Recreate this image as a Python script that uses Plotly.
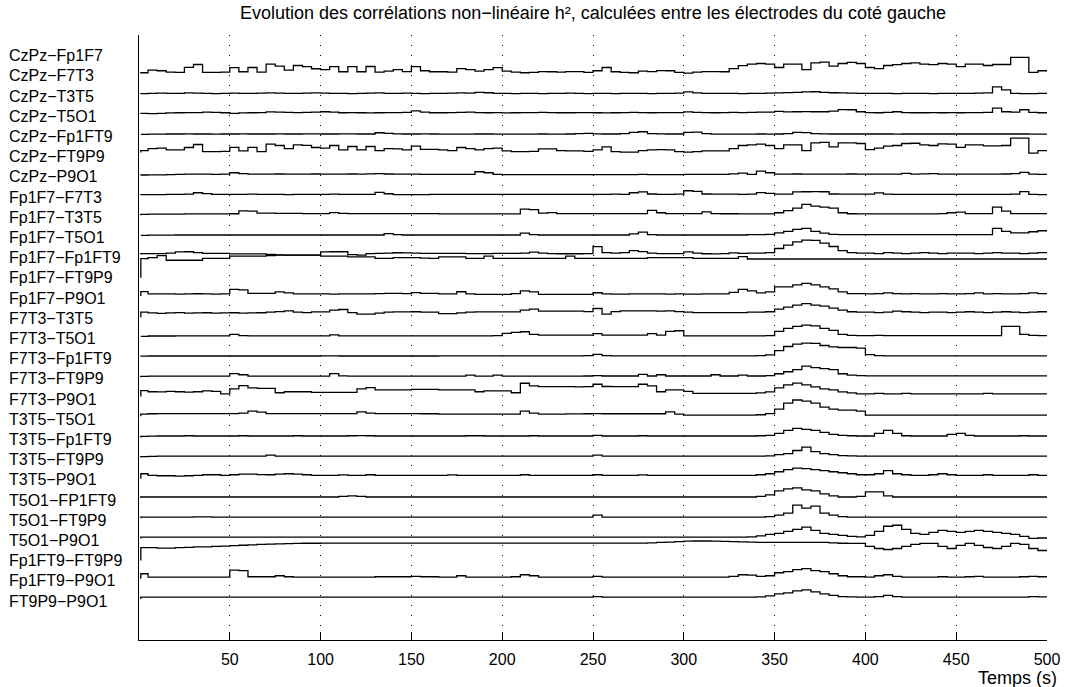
import plotly.graph_objects as go

# Time grid (s): first sample, then one value per 5 s window
TIME_S = [1] + list(range(5, 501, 5))

PAIR_LABELS = [
    "CzPz−Fp1F7", "CzPz−F7T3", "CzPz−T3T5", "CzPz−T5O1", "CzPz−Fp1FT9",
    "CzPz−FT9P9", "CzPz−P9O1", "Fp1F7−F7T3", "Fp1F7−T3T5", "Fp1F7−T5O1",
    "Fp1F7−Fp1FT9", "Fp1F7−FT9P9", "Fp1F7−P9O1", "F7T3−T3T5", "F7T3−T5O1",
    "F7T3−Fp1FT9", "F7T3−FT9P9", "F7T3−P9O1", "T3T5−T5O1", "T3T5−Fp1FT9",
    "T3T5−FT9P9", "T3T5−P9O1", "T5O1−FP1FT9", "T5O1−FT9P9", "T5O1−P9O1",
    "Fp1FT9−FT9P9", "Fp1FT9−P9O1", "FT9P9−P9O1",
]

X_TICKS = [50, 100, 150, 200, 250, 300, 350, 400, 450, 500]

# h2 values, one list per electrode pair (first value = initial sample)
CZPZ_F7T3 = [0.12,
    0.15, 0.28, 0.25, 0.18, 0.17, 0.42, 0.56, 0.17, 0.17, 0.18,
    0.40, 0.20, 0.41, 0.18, 0.58, 0.48, 0.28, 0.51, 0.45, 0.35,
    0.31, 0.45, 0.20, 0.45, 0.20, 0.46, 0.18, 0.23, 0.31, 0.21,
    0.45, 0.25, 0.20, 0.20, 0.18, 0.36, 0.31, 0.23, 0.31, 0.40,
    0.23, 0.18, 0.15, 0.17, 0.21, 0.20, 0.18, 0.21, 0.21, 0.17,
    0.25, 0.41, 0.20, 0.17, 0.15, 0.23, 0.21, 0.26, 0.25, 0.17,
    0.13, 0.18, 0.21, 0.21, 0.20, 0.36, 0.50, 0.58, 0.61, 0.58,
    0.41, 0.58, 0.58, 0.31, 0.64, 0.68, 0.48, 0.61, 0.66, 0.61,
    0.41, 0.36, 0.51, 0.55, 0.61, 0.64, 0.58, 0.55, 0.61, 0.58,
    0.45, 0.58, 0.58, 0.51, 0.56, 0.56, 0.91, 0.91, 0.17, 0.25]

CZPZ_T3T5 = [0.10,
    0.12, 0.13, 0.14, 0.13, 0.13, 0.15, 0.14, 0.13, 0.12, 0.13,
    0.14, 0.13, 0.13, 0.14, 0.15, 0.14, 0.13, 0.13, 0.14, 0.15,
    0.14, 0.13, 0.13, 0.12, 0.13, 0.14, 0.15, 0.13, 0.13, 0.14,
    0.13, 0.12, 0.13, 0.13, 0.14, 0.15, 0.14, 0.18, 0.16, 0.13,
    0.13, 0.12, 0.13, 0.13, 0.12, 0.13, 0.13, 0.14, 0.13, 0.12,
    0.13, 0.13, 0.12, 0.13, 0.13, 0.13, 0.12, 0.13, 0.13, 0.14,
    0.20, 0.15, 0.13, 0.13, 0.13, 0.13, 0.12, 0.13, 0.13, 0.14,
    0.15, 0.17, 0.18, 0.20, 0.21, 0.18, 0.16, 0.15, 0.14, 0.13,
    0.13, 0.13, 0.13, 0.12, 0.13, 0.13, 0.13, 0.12, 0.13, 0.13,
    0.13, 0.13, 0.14, 0.15, 0.45, 0.30, 0.13, 0.12, 0.12, 0.13]

CZPZ_T5O1 = [0.12,
    0.14, 0.13, 0.14, 0.16, 0.17, 0.18, 0.18, 0.20, 0.19, 0.17,
    0.14, 0.16, 0.17, 0.18, 0.21, 0.20, 0.19, 0.18, 0.19, 0.20,
    0.22, 0.20, 0.17, 0.18, 0.17, 0.16, 0.17, 0.18, 0.18, 0.19,
    0.26, 0.20, 0.17, 0.17, 0.18, 0.19, 0.20, 0.18, 0.17, 0.18,
    0.16, 0.17, 0.18, 0.18, 0.19, 0.18, 0.17, 0.17, 0.18, 0.18,
    0.17, 0.16, 0.17, 0.18, 0.19, 0.18, 0.17, 0.18, 0.18, 0.18,
    0.21, 0.19, 0.18, 0.17, 0.18, 0.19, 0.18, 0.19, 0.20, 0.20,
    0.24, 0.21, 0.22, 0.23, 0.22, 0.22, 0.25, 0.33, 0.32, 0.22,
    0.18, 0.17, 0.19, 0.22, 0.18, 0.17, 0.17, 0.18, 0.17, 0.18,
    0.17, 0.18, 0.18, 0.19, 0.40, 0.22, 0.20, 0.32, 0.19, 0.17]

CZPZ_FP1FT9 = [0.10,
    0.10, 0.11, 0.11, 0.12, 0.12, 0.13, 0.12, 0.12, 0.11, 0.12,
    0.12, 0.13, 0.12, 0.12, 0.12, 0.13, 0.12, 0.12, 0.13, 0.13,
    0.12, 0.12, 0.13, 0.13, 0.12, 0.12, 0.18, 0.15, 0.13, 0.12,
    0.12, 0.13, 0.12, 0.11, 0.11, 0.11, 0.11, 0.12, 0.12, 0.11,
    0.11, 0.11, 0.11, 0.11, 0.12, 0.11, 0.11, 0.12, 0.14, 0.15,
    0.13, 0.12, 0.12, 0.14, 0.20, 0.23, 0.14, 0.13, 0.12, 0.12,
    0.20, 0.21, 0.14, 0.11, 0.11, 0.11, 0.11, 0.11, 0.12, 0.11,
    0.12, 0.14, 0.20, 0.19, 0.14, 0.13, 0.12, 0.12, 0.12, 0.12,
    0.12, 0.12, 0.12, 0.11, 0.12, 0.12, 0.12, 0.12, 0.12, 0.12,
    0.12, 0.12, 0.12, 0.12, 0.12, 0.12, 0.12, 0.12, 0.11, 0.11]

CZPZ_FT9P9 = [0.20,
    0.30, 0.40, 0.42, 0.33, 0.33, 0.45, 0.60, 0.25, 0.25, 0.26,
    0.46, 0.28, 0.46, 0.25, 0.62, 0.55, 0.40, 0.58, 0.56, 0.45,
    0.42, 0.55, 0.33, 0.50, 0.33, 0.50, 0.30, 0.40, 0.38, 0.33,
    0.52, 0.36, 0.36, 0.33, 0.30, 0.45, 0.40, 0.33, 0.40, 0.42,
    0.28, 0.25, 0.25, 0.26, 0.38, 0.38, 0.30, 0.28, 0.28, 0.26,
    0.33, 0.48, 0.25, 0.22, 0.22, 0.30, 0.33, 0.35, 0.33, 0.25,
    0.22, 0.25, 0.28, 0.28, 0.28, 0.40, 0.55, 0.58, 0.62, 0.55,
    0.40, 0.58, 0.58, 0.30, 0.68, 0.70, 0.48, 0.68, 0.68, 0.65,
    0.35, 0.42, 0.52, 0.55, 0.65, 0.66, 0.58, 0.55, 0.63, 0.62,
    0.46, 0.58, 0.58, 0.53, 0.53, 0.55, 0.91, 0.91, 0.17, 0.30]

CZPZ_P9O1 = [0.08,
    0.09, 0.10, 0.10, 0.11, 0.12, 0.13, 0.13, 0.13, 0.12, 0.13,
    0.20, 0.16, 0.13, 0.13, 0.13, 0.14, 0.13, 0.13, 0.13, 0.14,
    0.13, 0.13, 0.13, 0.14, 0.13, 0.15, 0.16, 0.14, 0.13, 0.13,
    0.13, 0.12, 0.12, 0.12, 0.12, 0.12, 0.12, 0.25, 0.20, 0.12,
    0.11, 0.11, 0.11, 0.11, 0.11, 0.11, 0.11, 0.11, 0.11, 0.11,
    0.11, 0.11, 0.11, 0.11, 0.11, 0.12, 0.11, 0.11, 0.11, 0.11,
    0.12, 0.12, 0.12, 0.12, 0.12, 0.15, 0.18, 0.12, 0.28, 0.20,
    0.13, 0.13, 0.14, 0.13, 0.13, 0.13, 0.13, 0.13, 0.14, 0.13,
    0.13, 0.13, 0.13, 0.13, 0.17, 0.13, 0.15, 0.16, 0.13, 0.13,
    0.13, 0.13, 0.13, 0.13, 0.13, 0.14, 0.16, 0.22, 0.13, 0.12]

FP1F7_F7T3 = [0.10,
    0.12, 0.12, 0.12, 0.13, 0.13, 0.14, 0.21, 0.17, 0.13, 0.13,
    0.13, 0.13, 0.14, 0.13, 0.13, 0.13, 0.12, 0.13, 0.13, 0.13,
    0.13, 0.14, 0.13, 0.13, 0.13, 0.13, 0.23, 0.16, 0.12, 0.12,
    0.12, 0.12, 0.13, 0.13, 0.13, 0.13, 0.13, 0.13, 0.13, 0.13,
    0.13, 0.13, 0.13, 0.13, 0.13, 0.13, 0.13, 0.13, 0.13, 0.13,
    0.13, 0.13, 0.14, 0.13, 0.21, 0.25, 0.15, 0.13, 0.13, 0.14,
    0.31, 0.28, 0.15, 0.14, 0.14, 0.14, 0.13, 0.14, 0.22, 0.18,
    0.14, 0.14, 0.25, 0.26, 0.27, 0.26, 0.15, 0.14, 0.14, 0.14,
    0.14, 0.20, 0.14, 0.13, 0.13, 0.13, 0.13, 0.13, 0.13, 0.13,
    0.13, 0.13, 0.13, 0.13, 0.13, 0.13, 0.14, 0.27, 0.13, 0.12]

FP1F7_T3T5 = [0.10,
    0.14, 0.15, 0.15, 0.15, 0.15, 0.16, 0.16, 0.16, 0.16, 0.16,
    0.17, 0.31, 0.30, 0.20, 0.20, 0.19, 0.19, 0.19, 0.18, 0.18,
    0.18, 0.23, 0.19, 0.18, 0.18, 0.18, 0.18, 0.18, 0.18, 0.18,
    0.18, 0.18, 0.18, 0.16, 0.16, 0.16, 0.16, 0.16, 0.16, 0.16,
    0.16, 0.16, 0.40, 0.38, 0.20, 0.23, 0.18, 0.18, 0.18, 0.18,
    0.18, 0.18, 0.18, 0.18, 0.18, 0.18, 0.34, 0.22, 0.18, 0.18,
    0.18, 0.18, 0.26, 0.18, 0.17, 0.17, 0.16, 0.16, 0.16, 0.16,
    0.22, 0.33, 0.45, 0.64, 0.55, 0.50, 0.45, 0.22, 0.17, 0.16,
    0.16, 0.16, 0.16, 0.16, 0.16, 0.16, 0.16, 0.16, 0.18, 0.22,
    0.25, 0.18, 0.18, 0.18, 0.50, 0.30, 0.18, 0.18, 0.18, 0.18]

FP1F7_T5O1 = [0.10,
    0.10, 0.11, 0.11, 0.11, 0.12, 0.12, 0.12, 0.12, 0.12, 0.12,
    0.12, 0.12, 0.12, 0.12, 0.12, 0.12, 0.12, 0.12, 0.12, 0.12,
    0.12, 0.12, 0.12, 0.12, 0.12, 0.12, 0.12, 0.19, 0.14, 0.12,
    0.12, 0.12, 0.12, 0.12, 0.12, 0.12, 0.12, 0.12, 0.12, 0.12,
    0.12, 0.12, 0.21, 0.14, 0.12, 0.12, 0.12, 0.12, 0.12, 0.12,
    0.12, 0.12, 0.12, 0.12, 0.17, 0.26, 0.14, 0.12, 0.12, 0.12,
    0.12, 0.12, 0.12, 0.12, 0.12, 0.12, 0.12, 0.14, 0.14, 0.15,
    0.22, 0.30, 0.40, 0.45, 0.30, 0.21, 0.15, 0.14, 0.14, 0.14,
    0.14, 0.14, 0.14, 0.14, 0.14, 0.14, 0.14, 0.14, 0.14, 0.14,
    0.14, 0.14, 0.14, 0.14, 0.45, 0.30, 0.22, 0.22, 0.28, 0.33]

FP1F7_FP1FT9 = [0.15,
    0.20, 0.20, 0.20, 0.22, 0.28, 0.29, 0.25, 0.21, 0.21, 0.21,
    0.18, 0.18, 0.18, 0.18, 0.16, 0.14, 0.12, 0.12, 0.12, 0.12,
    0.28, 0.29, 0.29, 0.15, 0.12, 0.20, 0.21, 0.22, 0.24, 0.23,
    0.22, 0.21, 0.21, 0.21, 0.21, 0.21, 0.20, 0.20, 0.20, 0.21,
    0.21, 0.21, 0.22, 0.27, 0.22, 0.20, 0.19, 0.19, 0.19, 0.20,
    0.54, 0.25, 0.22, 0.25, 0.35, 0.30, 0.22, 0.20, 0.20, 0.20,
    0.28, 0.22, 0.19, 0.18, 0.20, 0.23, 0.21, 0.22, 0.22, 0.25,
    0.45, 0.62, 0.78, 0.87, 0.85, 0.72, 0.55, 0.35, 0.25, 0.22,
    0.22, 0.20, 0.25, 0.22, 0.20, 0.22, 0.25, 0.22, 0.20, 0.22,
    0.22, 0.22, 0.20, 0.22, 0.25, 0.22, 0.22, 0.20, 0.22, 0.25]

FP1F7_FT9P9 = [0.00,
    0.95, 1.00, 1.10, 0.87, 0.87, 0.87, 0.87, 0.96, 0.96, 0.96,
    1.07, 1.07, 1.07, 1.07, 1.10, 1.12, 1.12, 1.12, 1.12, 1.12,
    1.07, 1.07, 1.07, 1.04, 1.04, 1.04, 0.96, 0.96, 1.00, 1.00,
    1.00, 0.97, 0.96, 1.04, 1.04, 1.04, 0.96, 0.96, 1.07, 0.96,
    0.96, 0.96, 0.96, 0.96, 0.96, 0.96, 0.96, 1.07, 0.96, 0.96,
    0.96, 0.96, 0.96, 0.96, 0.96, 0.96, 1.00, 1.00, 1.00, 1.00,
    1.00, 0.96, 0.96, 0.96, 0.96, 0.96, 1.05, 0.93, 0.93, 0.93,
    0.93, 0.93, 0.93, 0.93, 0.93, 0.93, 0.93, 0.93, 0.93, 0.93,
    0.93, 0.93, 0.93, 0.93, 0.93, 0.93, 0.93, 0.93, 0.93, 0.93,
    0.93, 0.93, 0.93, 0.93, 0.93, 0.93, 0.93, 0.93, 0.93, 0.93]

FP1F7_P9O1 = [0.10,
    0.32, 0.20, 0.20, 0.20, 0.19, 0.20, 0.21, 0.20, 0.19, 0.20,
    0.43, 0.40, 0.23, 0.23, 0.23, 0.30, 0.25, 0.20, 0.20, 0.20,
    0.20, 0.19, 0.20, 0.20, 0.20, 0.20, 0.22, 0.23, 0.23, 0.22,
    0.27, 0.23, 0.23, 0.20, 0.20, 0.31, 0.20, 0.18, 0.18, 0.18,
    0.18, 0.22, 0.35, 0.30, 0.18, 0.18, 0.18, 0.18, 0.18, 0.18,
    0.26, 0.20, 0.19, 0.19, 0.20, 0.20, 0.20, 0.20, 0.19, 0.20,
    0.19, 0.19, 0.20, 0.20, 0.20, 0.28, 0.43, 0.35, 0.25, 0.30,
    0.55, 0.55, 0.65, 0.72, 0.65, 0.55, 0.45, 0.30, 0.22, 0.22,
    0.20, 0.22, 0.25, 0.22, 0.20, 0.22, 0.20, 0.20, 0.22, 0.20,
    0.20, 0.22, 0.25, 0.20, 0.22, 0.20, 0.20, 0.22, 0.25, 0.22]

F7T3_T3T5 = [0.05,
    0.30, 0.26, 0.24, 0.26, 0.28, 0.25, 0.26, 0.27, 0.25, 0.26,
    0.27, 0.25, 0.26, 0.27, 0.30, 0.33, 0.36, 0.30, 0.28, 0.31,
    0.31, 0.40, 0.43, 0.28, 0.20, 0.20, 0.25, 0.30, 0.31, 0.31,
    0.32, 0.30, 0.30, 0.23, 0.23, 0.26, 0.30, 0.31, 0.31, 0.31,
    0.31, 0.31, 0.40, 0.45, 0.35, 0.35, 0.35, 0.35, 0.35, 0.33,
    0.48, 0.20, 0.33, 0.36, 0.36, 0.36, 0.36, 0.35, 0.36, 0.33,
    0.30, 0.28, 0.28, 0.28, 0.28, 0.28, 0.28, 0.30, 0.30, 0.32,
    0.45, 0.55, 0.65, 0.72, 0.65, 0.60, 0.50, 0.40, 0.32, 0.30,
    0.30, 0.28, 0.30, 0.35, 0.32, 0.30, 0.28, 0.30, 0.30, 0.28,
    0.30, 0.32, 0.30, 0.28, 0.30, 0.32, 0.30, 0.28, 0.30, 0.32]

F7T3_T5O1 = [0.10,
    0.10, 0.12, 0.12, 0.12, 0.13, 0.13, 0.13, 0.13, 0.13, 0.13,
    0.20, 0.14, 0.13, 0.13, 0.13, 0.13, 0.13, 0.13, 0.13, 0.13,
    0.13, 0.17, 0.13, 0.13, 0.13, 0.13, 0.13, 0.13, 0.13, 0.13,
    0.13, 0.13, 0.13, 0.13, 0.13, 0.13, 0.13, 0.13, 0.13, 0.14,
    0.25, 0.30, 0.33, 0.20, 0.16, 0.16, 0.16, 0.16, 0.16, 0.16,
    0.24, 0.16, 0.16, 0.16, 0.16, 0.16, 0.24, 0.16, 0.35, 0.38,
    0.13, 0.13, 0.13, 0.13, 0.13, 0.13, 0.13, 0.13, 0.13, 0.14,
    0.35, 0.50, 0.60, 0.66, 0.62, 0.50, 0.40, 0.20, 0.15, 0.14,
    0.14, 0.15, 0.14, 0.14, 0.14, 0.14, 0.14, 0.14, 0.14, 0.14,
    0.14, 0.14, 0.14, 0.14, 0.14, 0.60, 0.60, 0.20, 0.15, 0.14]

F7T3_FP1FT9 = [0.10,
    0.12, 0.13, 0.13, 0.13, 0.13, 0.13, 0.13, 0.13, 0.13, 0.13,
    0.13, 0.13, 0.13, 0.13, 0.13, 0.13, 0.13, 0.13, 0.13, 0.13,
    0.14, 0.14, 0.13, 0.13, 0.13, 0.13, 0.13, 0.13, 0.13, 0.13,
    0.13, 0.13, 0.13, 0.14, 0.14, 0.14, 0.14, 0.14, 0.14, 0.14,
    0.14, 0.14, 0.14, 0.14, 0.14, 0.14, 0.14, 0.14, 0.14, 0.15,
    0.21, 0.15, 0.14, 0.14, 0.14, 0.14, 0.14, 0.14, 0.14, 0.14,
    0.14, 0.14, 0.14, 0.14, 0.14, 0.14, 0.14, 0.14, 0.15, 0.18,
    0.40, 0.60, 0.72, 0.77, 0.75, 0.65, 0.58, 0.55, 0.55, 0.52,
    0.20, 0.15, 0.14, 0.14, 0.14, 0.14, 0.14, 0.14, 0.14, 0.14,
    0.14, 0.14, 0.14, 0.14, 0.14, 0.14, 0.14, 0.14, 0.14, 0.14]

F7T3_FT9P9 = [0.08,
    0.12, 0.13, 0.13, 0.13, 0.13, 0.13, 0.13, 0.13, 0.13, 0.13,
    0.26, 0.20, 0.13, 0.13, 0.13, 0.13, 0.13, 0.13, 0.13, 0.13,
    0.13, 0.26, 0.15, 0.13, 0.13, 0.13, 0.13, 0.13, 0.13, 0.13,
    0.13, 0.13, 0.13, 0.13, 0.13, 0.13, 0.18, 0.13, 0.13, 0.18,
    0.13, 0.13, 0.13, 0.13, 0.13, 0.13, 0.13, 0.13, 0.13, 0.14,
    0.16, 0.14, 0.14, 0.14, 0.14, 0.22, 0.14, 0.20, 0.14, 0.14,
    0.14, 0.14, 0.14, 0.20, 0.14, 0.14, 0.18, 0.14, 0.14, 0.16,
    0.25, 0.35, 0.45, 0.63, 0.55, 0.50, 0.45, 0.25, 0.18, 0.16,
    0.15, 0.15, 0.15, 0.15, 0.15, 0.15, 0.15, 0.15, 0.15, 0.15,
    0.15, 0.15, 0.15, 0.15, 0.15, 0.15, 0.15, 0.15, 0.15, 0.15]

F7T3_P9O1 = [0.12,
    0.42, 0.36, 0.35, 0.38, 0.36, 0.34, 0.36, 0.40, 0.38, 0.25,
    0.50, 0.66, 0.55, 0.53, 0.53, 0.31, 0.36, 0.36, 0.36, 0.33,
    0.33, 0.33, 0.33, 0.33, 0.50, 0.56, 0.45, 0.45, 0.45, 0.45,
    0.48, 0.48, 0.48, 0.45, 0.45, 0.45, 0.45, 0.36, 0.40, 0.40,
    0.40, 0.31, 0.78, 0.65, 0.61, 0.61, 0.61, 0.61, 0.60, 0.61,
    0.73, 0.62, 0.61, 0.61, 0.61, 0.73, 0.65, 0.36, 0.45, 0.45,
    0.38, 0.28, 0.28, 0.28, 0.28, 0.28, 0.28, 0.28, 0.30, 0.35,
    0.55, 0.70, 0.79, 0.70, 0.60, 0.50, 0.45, 0.35, 0.30, 0.25,
    0.25, 0.28, 0.25, 0.25, 0.28, 0.25, 0.25, 0.25, 0.25, 0.25,
    0.25, 0.25, 0.25, 0.28, 0.25, 0.25, 0.25, 0.25, 0.25, 0.25]

T3T5_T5O1 = [0.15,
    0.25, 0.27, 0.28, 0.28, 0.28, 0.28, 0.28, 0.28, 0.28, 0.28,
    0.28, 0.30, 0.40, 0.35, 0.28, 0.28, 0.28, 0.28, 0.28, 0.28,
    0.28, 0.28, 0.28, 0.28, 0.36, 0.30, 0.28, 0.28, 0.28, 0.28,
    0.28, 0.27, 0.27, 0.25, 0.25, 0.25, 0.25, 0.25, 0.25, 0.25,
    0.25, 0.25, 0.40, 0.30, 0.25, 0.25, 0.25, 0.26, 0.26, 0.27,
    0.28, 0.27, 0.27, 0.27, 0.27, 0.27, 0.27, 0.27, 0.36, 0.25,
    0.20, 0.20, 0.20, 0.20, 0.20, 0.20, 0.20, 0.20, 0.22, 0.28,
    0.50, 0.80, 0.95, 0.90, 0.80, 0.60, 0.50, 0.45, 0.45, 0.40,
    0.20, 0.20, 0.20, 0.20, 0.20, 0.20, 0.20, 0.20, 0.20, 0.20,
    0.20, 0.20, 0.20, 0.20, 0.20, 0.20, 0.20, 0.20, 0.20, 0.20]

T3T5_FP1FT9 = [0.10,
    0.15, 0.16, 0.17, 0.17, 0.17, 0.18, 0.17, 0.17, 0.17, 0.17,
    0.17, 0.18, 0.17, 0.17, 0.17, 0.17, 0.17, 0.18, 0.17, 0.17,
    0.17, 0.17, 0.17, 0.18, 0.19, 0.18, 0.17, 0.17, 0.17, 0.17,
    0.17, 0.17, 0.17, 0.17, 0.17, 0.17, 0.18, 0.18, 0.17, 0.17,
    0.17, 0.17, 0.17, 0.18, 0.17, 0.17, 0.17, 0.17, 0.17, 0.17,
    0.20, 0.17, 0.17, 0.17, 0.17, 0.18, 0.17, 0.17, 0.17, 0.17,
    0.17, 0.17, 0.17, 0.17, 0.17, 0.17, 0.17, 0.17, 0.18, 0.20,
    0.30, 0.45, 0.55, 0.50, 0.45, 0.35, 0.25, 0.20, 0.18, 0.17,
    0.17, 0.30, 0.45, 0.30, 0.18, 0.17, 0.17, 0.17, 0.17, 0.25,
    0.30, 0.20, 0.17, 0.17, 0.17, 0.17, 0.17, 0.18, 0.17, 0.17]

T3T5_FT9P9 = [0.10,
    0.15, 0.16, 0.17, 0.17, 0.17, 0.17, 0.17, 0.17, 0.17, 0.17,
    0.17, 0.17, 0.17, 0.17, 0.22, 0.17, 0.17, 0.17, 0.17, 0.17,
    0.17, 0.17, 0.17, 0.17, 0.17, 0.17, 0.17, 0.17, 0.17, 0.17,
    0.17, 0.17, 0.17, 0.17, 0.17, 0.17, 0.17, 0.17, 0.17, 0.17,
    0.17, 0.17, 0.17, 0.17, 0.17, 0.17, 0.17, 0.17, 0.17, 0.17,
    0.22, 0.17, 0.17, 0.17, 0.17, 0.17, 0.17, 0.17, 0.17, 0.17,
    0.17, 0.17, 0.17, 0.17, 0.17, 0.17, 0.17, 0.17, 0.17, 0.18,
    0.25, 0.30, 0.45, 0.62, 0.40, 0.30, 0.25, 0.20, 0.18, 0.17,
    0.17, 0.17, 0.17, 0.17, 0.17, 0.17, 0.17, 0.17, 0.17, 0.17,
    0.17, 0.17, 0.17, 0.17, 0.17, 0.17, 0.17, 0.17, 0.17, 0.17]

T3T5_P9O1 = [0.05,
    0.30, 0.22, 0.20, 0.20, 0.18, 0.20, 0.22, 0.25, 0.25, 0.22,
    0.25, 0.28, 0.28, 0.26, 0.25, 0.28, 0.30, 0.28, 0.25, 0.22,
    0.22, 0.22, 0.24, 0.22, 0.22, 0.25, 0.22, 0.22, 0.22, 0.22,
    0.22, 0.22, 0.22, 0.22, 0.24, 0.22, 0.22, 0.22, 0.22, 0.22,
    0.22, 0.22, 0.25, 0.22, 0.22, 0.22, 0.22, 0.22, 0.22, 0.22,
    0.25, 0.22, 0.22, 0.22, 0.22, 0.24, 0.22, 0.22, 0.22, 0.22,
    0.22, 0.22, 0.22, 0.22, 0.22, 0.22, 0.22, 0.22, 0.25, 0.30,
    0.40, 0.50, 0.58, 0.55, 0.50, 0.45, 0.40, 0.35, 0.30, 0.25,
    0.25, 0.30, 0.45, 0.30, 0.25, 0.22, 0.22, 0.25, 0.30, 0.25,
    0.22, 0.22, 0.22, 0.25, 0.22, 0.22, 0.22, 0.22, 0.25, 0.22]

T5O1_FP1FT9 = [0.10,
    0.15, 0.15, 0.15, 0.15, 0.15, 0.15, 0.15, 0.15, 0.15, 0.15,
    0.15, 0.15, 0.15, 0.15, 0.15, 0.15, 0.15, 0.15, 0.15, 0.15,
    0.15, 0.15, 0.18, 0.20, 0.18, 0.15, 0.15, 0.15, 0.15, 0.15,
    0.15, 0.15, 0.15, 0.15, 0.15, 0.15, 0.15, 0.15, 0.15, 0.15,
    0.15, 0.15, 0.15, 0.15, 0.15, 0.15, 0.15, 0.15, 0.15, 0.15,
    0.15, 0.15, 0.15, 0.15, 0.15, 0.15, 0.15, 0.15, 0.15, 0.15,
    0.15, 0.15, 0.15, 0.15, 0.15, 0.15, 0.15, 0.15, 0.18, 0.25,
    0.45, 0.55, 0.60, 0.50, 0.45, 0.30, 0.20, 0.15, 0.15, 0.18,
    0.40, 0.40, 0.20, 0.15, 0.15, 0.15, 0.15, 0.15, 0.15, 0.15,
    0.15, 0.15, 0.15, 0.15, 0.15, 0.15, 0.15, 0.15, 0.15, 0.15]

T5O1_FT9P9 = [0.10,
    0.15, 0.15, 0.15, 0.15, 0.15, 0.15, 0.17, 0.17, 0.15, 0.15,
    0.15, 0.15, 0.15, 0.15, 0.15, 0.15, 0.15, 0.15, 0.15, 0.15,
    0.15, 0.15, 0.15, 0.15, 0.15, 0.15, 0.15, 0.15, 0.15, 0.15,
    0.15, 0.15, 0.15, 0.15, 0.15, 0.15, 0.15, 0.15, 0.15, 0.15,
    0.15, 0.15, 0.15, 0.15, 0.15, 0.15, 0.15, 0.15, 0.15, 0.15,
    0.25, 0.15, 0.15, 0.15, 0.15, 0.15, 0.15, 0.15, 0.15, 0.15,
    0.15, 0.15, 0.15, 0.15, 0.15, 0.15, 0.15, 0.15, 0.15, 0.18,
    0.25, 0.35, 0.75, 0.60, 0.70, 0.35, 0.25, 0.18, 0.15, 0.15,
    0.15, 0.15, 0.15, 0.15, 0.15, 0.15, 0.15, 0.15, 0.15, 0.15,
    0.15, 0.15, 0.15, 0.15, 0.15, 0.15, 0.15, 0.15, 0.15, 0.15]

T5O1_P9O1 = [0.10,
    0.16, 0.16, 0.16, 0.16, 0.16, 0.16, 0.16, 0.16, 0.16, 0.16,
    0.16, 0.16, 0.16, 0.16, 0.16, 0.16, 0.16, 0.16, 0.16, 0.16,
    0.16, 0.16, 0.16, 0.16, 0.16, 0.16, 0.16, 0.16, 0.16, 0.16,
    0.16, 0.16, 0.16, 0.16, 0.16, 0.16, 0.16, 0.16, 0.16, 0.16,
    0.16, 0.16, 0.16, 0.16, 0.16, 0.16, 0.16, 0.16, 0.16, 0.16,
    0.16, 0.16, 0.16, 0.16, 0.16, 0.16, 0.16, 0.16, 0.16, 0.16,
    0.16, 0.16, 0.16, 0.16, 0.16, 0.16, 0.16, 0.18, 0.22, 0.30,
    0.35, 0.45, 0.55, 0.66, 0.50, 0.35, 0.30, 0.25, 0.20, 0.18,
    0.25, 0.45, 0.70, 0.75, 0.55, 0.35, 0.30, 0.40, 0.50, 0.45,
    0.40, 0.45, 0.50, 0.45, 0.40, 0.35, 0.30, 0.20, 0.10, 0.12]

FP1FT9_FT9P9 = [0.00,
    0.64, 0.64, 0.62, 0.62, 0.64, 0.66, 0.68, 0.68, 0.70, 0.72,
    0.74, 0.76, 0.78, 0.80, 0.82, 0.83, 0.84, 0.85, 0.86, 0.86,
    0.87, 0.87, 0.87, 0.87, 0.87, 0.87, 0.87, 0.87, 0.87, 0.87,
    0.87, 0.87, 0.87, 0.87, 0.87, 0.87, 0.87, 0.87, 0.87, 0.87,
    0.87, 0.87, 0.87, 0.87, 0.87, 0.87, 0.87, 0.87, 0.87, 0.87,
    0.87, 0.87, 0.87, 0.87, 0.87, 0.87, 0.88, 0.90, 0.92, 0.94,
    0.96, 0.97, 0.97, 0.96, 0.95, 0.94, 0.93, 0.92, 0.90, 0.90,
    0.90, 0.90, 0.90, 0.90, 0.90, 0.90, 0.88, 0.86, 0.85, 0.85,
    0.70, 0.60, 0.55, 0.60, 0.70, 0.80, 0.85, 0.85, 0.70, 0.60,
    0.75, 0.85, 0.75, 0.65, 0.60, 0.70, 0.85, 0.80, 0.60, 0.50]

FP1FT9_P9O1 = [0.10,
    0.35, 0.18, 0.18, 0.18, 0.18, 0.18, 0.18, 0.18, 0.18, 0.18,
    0.53, 0.50, 0.20, 0.20, 0.20, 0.25, 0.20, 0.18, 0.18, 0.18,
    0.18, 0.18, 0.18, 0.18, 0.18, 0.18, 0.20, 0.20, 0.20, 0.20,
    0.22, 0.20, 0.20, 0.18, 0.18, 0.25, 0.18, 0.18, 0.18, 0.18,
    0.18, 0.20, 0.30, 0.25, 0.18, 0.18, 0.18, 0.18, 0.18, 0.18,
    0.22, 0.18, 0.18, 0.18, 0.18, 0.18, 0.18, 0.18, 0.18, 0.18,
    0.18, 0.18, 0.18, 0.18, 0.18, 0.22, 0.30, 0.28, 0.22, 0.25,
    0.40, 0.45, 0.55, 0.60, 0.50, 0.45, 0.35, 0.25, 0.20, 0.20,
    0.18, 0.25, 0.30, 0.22, 0.18, 0.18, 0.18, 0.18, 0.20, 0.18,
    0.18, 0.20, 0.22, 0.18, 0.18, 0.18, 0.18, 0.20, 0.22, 0.20]

FT9P9_P9O1 = [0.10,
    0.19, 0.19, 0.19, 0.19, 0.19, 0.19, 0.19, 0.19, 0.19, 0.19,
    0.19, 0.19, 0.19, 0.19, 0.19, 0.19, 0.19, 0.19, 0.19, 0.19,
    0.19, 0.19, 0.19, 0.19, 0.19, 0.19, 0.19, 0.19, 0.19, 0.19,
    0.19, 0.19, 0.19, 0.19, 0.19, 0.19, 0.19, 0.19, 0.19, 0.19,
    0.19, 0.19, 0.19, 0.19, 0.19, 0.19, 0.19, 0.19, 0.19, 0.19,
    0.22, 0.19, 0.19, 0.19, 0.19, 0.19, 0.19, 0.19, 0.19, 0.19,
    0.19, 0.19, 0.19, 0.19, 0.19, 0.19, 0.19, 0.19, 0.20, 0.25,
    0.35, 0.40, 0.50, 0.55, 0.45, 0.35, 0.28, 0.22, 0.20, 0.19,
    0.19, 0.22, 0.28, 0.22, 0.19, 0.19, 0.19, 0.19, 0.19, 0.19,
    0.19, 0.19, 0.19, 0.19, 0.19, 0.19, 0.19, 0.19, 0.22, 0.20]

# Series drawn on label rows 1..27 (row 0 is left without a trace)
SERIES = [
    CZPZ_F7T3, CZPZ_T3T5, CZPZ_T5O1, CZPZ_FP1FT9, CZPZ_FT9P9, CZPZ_P9O1,
    FP1F7_F7T3, FP1F7_T3T5, FP1F7_T5O1, FP1F7_FP1FT9, FP1F7_FT9P9,
    FP1F7_P9O1, F7T3_T3T5, F7T3_T5O1, F7T3_FP1FT9, F7T3_FT9P9, F7T3_P9O1,
    T3T5_T5O1, T3T5_FP1FT9, T3T5_FT9P9, T3T5_P9O1, T5O1_FP1FT9,
    T5O1_FT9P9, T5O1_P9O1, FP1FT9_FT9P9, FP1FT9_P9O1, FT9P9_P9O1,
]

FONT = "Liberation Sans, Arial, Helvetica, sans-serif"
n_rows = len(PAIR_LABELS)

fig = go.Figure()
for i, values in enumerate(SERIES):
    assert len(values) == len(TIME_S)
    offset = n_rows - 2 - i  # row index i+1 counted from the top
    fig.add_trace(go.Scatter(
        x=TIME_S,
        y=[offset + v for v in values],
        mode="lines",
        line=dict(color="black", width=1.3, shape="vh"),
        hoverinfo="skip",
        showlegend=False,
    ))

# Pair names, left aligned, one per row
for k, name in enumerate(PAIR_LABELS):
    fig.add_annotation(
        text=name, xref="paper", yref="y",
        x=-132 / 908, y=n_rows - 1 - k,
        xanchor="left", yanchor="middle", showarrow=False,
        font=dict(family=FONT, size=16, color="black"),
    )

fig.add_annotation(
    text="Temps (s)", xref="paper", yref="paper",
    x=1 + 12 / 908, y=-38 / 605, xanchor="right", yanchor="middle",
    showarrow=False, font=dict(family=FONT, size=18, color="black"),
)

fig.update_layout(
    width=1065, height=687,
    margin=dict(l=139, r=18, t=35, b=47, autoexpand=False),
    paper_bgcolor="white", plot_bgcolor="white",
    title=dict(
        text="Evolution des corrélations non−linéaire h², calculées entre les électrodes du coté gauche",
        x=593 / 1065, xanchor="center", y=1 - 13 / 687, yanchor="middle",
        font=dict(family=FONT, size=18, color="black"),
    ),
    xaxis=dict(
        range=[0, 500], tickvals=X_TICKS, ticks="inside", ticklen=8,
        tickcolor="black", tickwidth=1, showline=True, linecolor="black",
        linewidth=1, showgrid=True, gridcolor="black", gridwidth=1,
        griddash="1px,9px", zeroline=False, ticklabelstandoff=5,
        automargin=False,
        tickfont=dict(family=FONT, size=16, color="black"),
    ),
    yaxis=dict(
        range=[-1.93, 28.02], showticklabels=False, ticks="",
        showline=True, linecolor="black", linewidth=1,
        showgrid=False, zeroline=False, automargin=False,
    ),
)

fig.write_html("out.html")
